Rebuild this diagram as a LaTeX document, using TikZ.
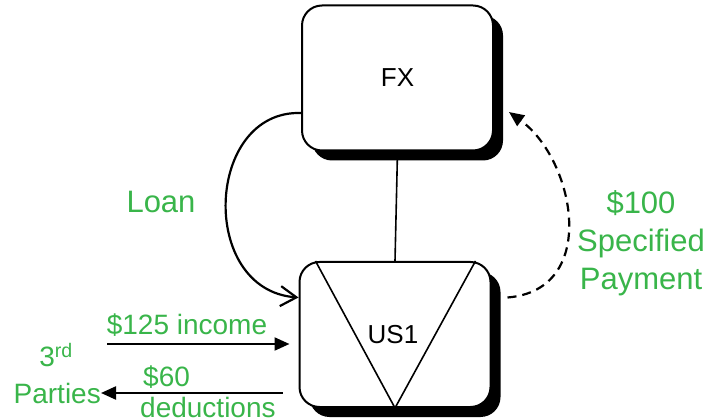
\documentclass[tikz,border=0pt]{standalone}
\usepackage{fontspec}
\setmainfont{Liberation Sans}
\usetikzlibrary{arrows.meta,calc,shadows}
\definecolor{labelgreen}{RGB}{57,181,74}
\tikzset{
  entity/.style={draw=black, line width=2pt, fill=white, rounded corners=20pt,
    minimum width=191pt, minimum height=145pt, inner sep=0pt,
    drop shadow={shadow xshift=10pt, shadow yshift=-10pt, fill=black, opacity=1},
    font=\fontsize{26}{30}\selectfont},
  flow/.style={line width=2.2pt},
  solidtip/.style={-{Triangle[length=15pt,width=13pt]}},
  lbl/.style={text=labelgreen, align=center, inner sep=0pt},
  biglbl/.style={lbl, font=\fontsize{31}{38}\selectfont},
  smalllbl/.style={lbl, font=\fontsize{28}{31}\selectfont},
}
\begin{document}
\begin{tikzpicture}[x=1pt,y=-1pt]
\useasboundingbox (0,0) rectangle (709,419);

% entities
\node[entity] (fx) at (397.5,78) {FX};
\node[entity] (us) at (395,334.5) {};
\draw[line width=1.6pt]
  ($(us.north west)+(17,0)$) -- ($(us.south)+(0,0)$) -- ($(us.north east)+(-16,0)$);
\node[font=\fontsize{26}{30}\selectfont] (uslabel) at (393,335) {US1};

% ownership link
\draw[line width=1.6pt] (fx.south) -- (us.north);

% loan from FX to US1
\draw[flow, -{Straight Barb[length=16pt,width=20pt]}]
  ($(fx.west)+(0,35)$) .. controls (205,110) and (198,290) .. ($(us.west)+(0,-37)$);
\node[biglbl] (loan) at (161,202) {Loan};

% specified payment from US1 to FX
\draw[flow, dashed, dash pattern=on 9pt off 6pt, solidtip]
  ($(us.east)+(16,-37)$) .. controls (600,290) and (575,160) .. ($(fx.east)+(15,34)$);
\node[biglbl] (pay) at (641,243) {\$100\\Specified\\Payment};

% third-party flows
\node[smalllbl] (third) at (56,355) {3\textsuperscript{rd}};
\node[smalllbl, anchor=east] (parties) at (101,393) {Parties};
\coordinate (incstart) at (107,344);
\draw[flow, solidtip, shorten >=9pt] (incstart) -- (incstart -| us.west);
\node[smalllbl] (income) at (187,325) {\$125 income};
\draw[flow, solidtip, shorten <=16pt] (us.west |- parties.east) -- (parties.east);
\node[smalllbl, anchor=west] (sixty) at (143,377) {\$60};
\node[smalllbl, anchor=west] (ded) at (140,407) {deductions};
\end{tikzpicture}
\end{document}
